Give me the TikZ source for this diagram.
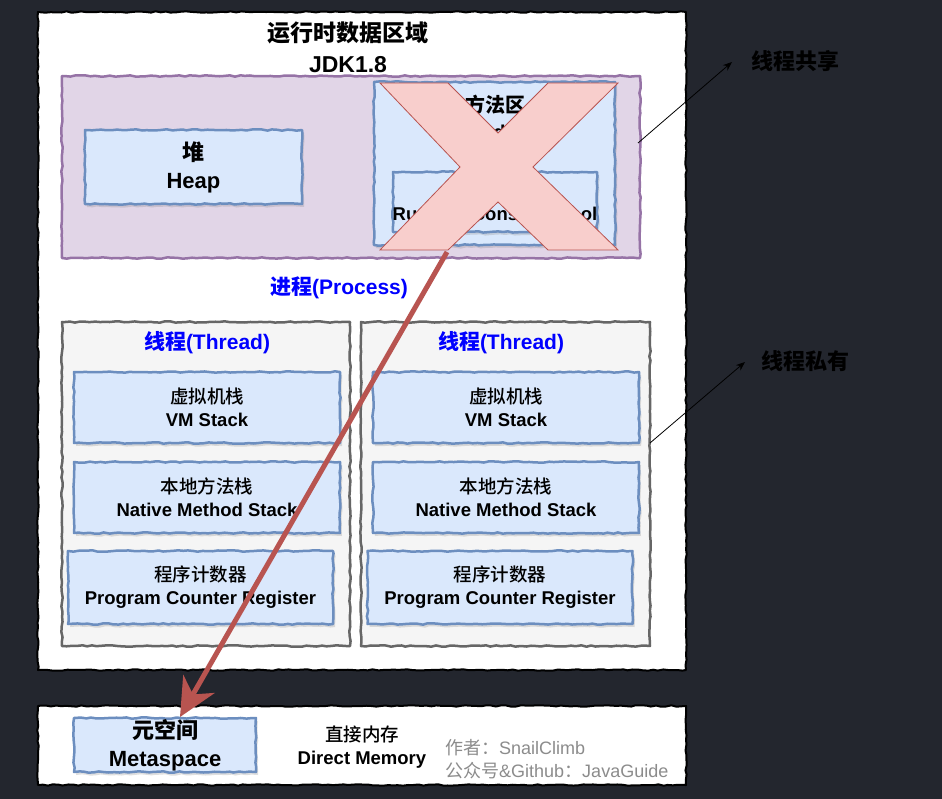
\documentclass[tikz,border=0pt]{standalone}
\usepackage{fontspec}
\setmainfont{Liberation Sans}
\newfontfamily\cjk{Noto Sans CJK SC}
\newfontfamily\cjkmed{Noto Sans CJK SC Medium}
\usetikzlibrary{decorations.pathmorphing,shadows,arrows.meta,calc}
\definecolor{bgdark}{HTML}{23262E}
\definecolor{purfill}{HTML}{E1D5E7}
\definecolor{purline}{HTML}{9673A6}
\definecolor{bluefill}{HTML}{DAE8FC}
\definecolor{blueline}{HTML}{6C8EBF}
\definecolor{grayfill}{HTML}{F5F5F5}
\definecolor{grayline}{HTML}{666666}
\definecolor{redfill}{HTML}{F8CECC}
\definecolor{redline}{HTML}{B85450}
\definecolor{authorgray}{HTML}{8C8C8C}
\newcommand\zh[1]{{\cjk #1}}
\newcommand\zm[1]{{\cjkmed\mdseries #1}}
\newcommand\fs[2]{\fontsize{#1}{#2}\selectfont}
\tikzset{
  sketch/.style={decorate,decoration={random steps,segment length=5pt,amplitude=0.7pt}},
  boxbase/.style={sketch,inner sep=0pt,align=center,line join=round},
  mainbox/.style={boxbase,draw=black,fill=white,line width=2pt},
  purbox/.style={boxbase,draw=purline,fill=purfill,line width=2.5pt},
  bluebox/.style={boxbase,draw=blueline,fill=bluefill,line width=2.5pt,
    drop shadow={shadow xshift=2pt,shadow yshift=-3pt,opacity=0.25}},
  graybox/.style={boxbase,draw=grayline,fill=grayfill,line width=2.5pt},
  boxtext/.style={font=\bfseries\fs{18.5}{23},align=center,inner sep=0pt},
  bigtext/.style={font=\bfseries\fs{22}{28},align=center,inner sep=0pt},
  bluetitle/.style={font=\bfseries\fs{21}{25},text=blue,inner sep=0pt},
  sidelabel/.style={font=\bfseries\fs{22}{26},text=black,inner sep=0pt},
  thinarrow/.style={draw=black,line width=0.8pt,-{Stealth[length=9pt,width=7pt]}},
  redarrow/.style={draw=redline,line width=5pt,-{Stealth[length=38pt,width=36pt,inset=12pt]}},
}
\begin{document}
\begin{tikzpicture}[x=1pt,y=-1pt]
\useasboundingbox (0,0) rectangle (942,799);
\fill[bgdark] (0,0) rectangle (942,799);

% main runtime box
\node[mainbox,minimum width=648pt,minimum height=658pt] (rt) at (362,341) {};
\node[font=\bfseries\fs{23}{31},align=center,inner sep=0pt] (title) at (348,47) {\zh{运行时数据区域}\\JDK1.8};

% shared area
\node[purbox,minimum width=578pt,minimum height=182pt] (shared) at (351,167) {};
\node[bluebox,bigtext,minimum width=217pt,minimum height=74pt] (heap) at (193.5,167) {\zh{堆}\\Heap};
\node[bluebox,minimum width=241pt,minimum height=163pt] (method) at (494.5,163.5) {};
\node[boxtext,font=\bfseries\fs{20}{27}] (methodtxt) at (495,117) {\zh{方法区}\\Method Area};
\node[bluebox,boxtext,minimum width=204pt,minimum height=60pt] (rcp) at (495,202) {};
\node[boxtext] (rcptxt) at (495,214) {Runtime Constant Pool};

% red cross
\filldraw[fill=redfill,draw=redline,line width=0.8pt,line join=miter]
  (380,83) -- (448,83) -- (498,133) -- (548,83) -- (618,83) -- (533,167) --
  (618,250) -- (548,250) -- (498,202) -- (448,250) -- (380,250) -- (460,167) -- cycle;

\node[bluetitle] (process) at (339,288) {\zh{进程}(Process)};

% left thread
\node[graybox,minimum width=288pt,minimum height=324pt] (t1) at (206,484) {};
\node[bluetitle] (t1title) at (207,343) {\zh{线程}(Thread)};
\node[bluebox,boxtext,minimum width=266pt,minimum height=71pt] (vm1) at (207,407.5) {\zm{虚拟机栈}\\VM Stack};
\node[bluebox,boxtext,minimum width=266pt,minimum height=71pt] (nm1) at (207,497.5) {\zm{本地方法栈}\\Native Method Stack};
\node[bluebox,boxtext,minimum width=265pt,minimum height=73pt] (pc1) at (200.5,587.5) {\zm{程序计数器}\\Program Counter Register};

% right thread
\node[graybox,minimum width=289pt,minimum height=324pt] (t2) at (505.5,484) {};
\node[bluetitle] (t2title) at (501,343) {\zh{线程}(Thread)};
\node[bluebox,boxtext,minimum width=266pt,minimum height=71pt] (vm2) at (506,407.5) {\zm{虚拟机栈}\\VM Stack};
\node[bluebox,boxtext,minimum width=266pt,minimum height=71pt] (nm2) at (506,497.5) {\zm{本地方法栈}\\Native Method Stack};
\node[bluebox,boxtext,minimum width=265pt,minimum height=73pt] (pc2) at (500,587.5) {\zm{程序计数器}\\Program Counter Register};

% bottom box
\node[mainbox,minimum width=648pt,minimum height=79pt] (bottom) at (362,745.5) {};
\node[bluebox,bigtext,minimum width=182pt,minimum height=54pt] (meta) at (165,745) {\zh{元空间}\\Metaspace};
\node[boxtext] (direct) at (362,747.5) {\zm{直接内存}\\Direct Memory};
\node[anchor=west,align=left,inner sep=0pt,text=authorgray,font=\fs{18}{23}] (author) at (445,759.5)
  {\zh{作者：}SnailClimb\\\zh{公众号}\&Github\zh{：}JavaGuide};

% side labels
\node[sidelabel] (lshare) at (795,61) {\zh{线程共享}};
\node[sidelabel] (lpriv) at (805,361) {\zh{线程私有}};
\coordinate (s1) at (638,143);
\coordinate (e1) at (732,62);
\coordinate (s2) at (650,443);
\coordinate (e2) at (745,362);
\draw[thinarrow] (s1) -- (e1);
\draw[thinarrow] (s2) -- (e2);

% red arrow
\coordinate (xs) at (447,252);
\coordinate (mtip) at (180,717);
\draw[redarrow] (xs) -- (mtip);
\end{tikzpicture}
\end{document}
